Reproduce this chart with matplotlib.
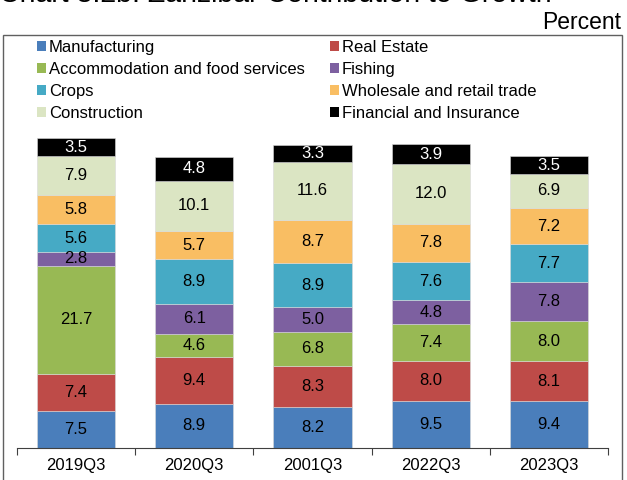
import matplotlib

matplotlib.use("Agg")
import matplotlib.pyplot as plt
from matplotlib.patches import Patch, Rectangle

plt.rcParams["font.family"] = ["Liberation Sans", "DejaVu Sans"]

quarters = ["2019Q3", "2020Q3", "2001Q3", "2022Q3", "2023Q3"]
sectors = [
    "Manufacturing",
    "Real Estate",
    "Accommodation and food services",
    "Fishing",
    "Crops",
    "Wholesale and retail trade",
    "Construction",
    "Financial and Insurance",
]
manufacturing = [7.5, 8.9, 8.2, 9.5, 9.4]
real_estate = [7.4, 9.4, 8.3, 8.0, 8.1]
accommodation = [21.7, 4.6, 6.8, 7.4, 8.0]
fishing = [2.8, 6.1, 5.0, 4.8, 7.8]
crops = [5.6, 8.9, 8.9, 7.6, 7.7]
wholesale = [5.8, 5.7, 8.7, 7.8, 7.2]
construction = [7.9, 10.1, 11.6, 12.0, 6.9]
financial = [3.5, 4.8, 3.3, 3.9, 3.5]

series = [manufacturing, real_estate, accommodation, fishing,
          crops, wholesale, construction, financial]
colors = ["#4a7ebb", "#be4b48", "#98b954", "#7d60a0",
          "#46aac5", "#f9be63", "#dbe5c3", "#000000"]

W, H = 627, 480
fig = plt.figure(figsize=(W / 100, H / 100), dpi=100)
ax = fig.add_axes([17 / W, (H - 448) / H, (608 - 17) / W, (448 - 35) / H])

x = list(range(len(quarters)))
bottom = [0.0] * len(quarters)
for vals, col in zip(series, colors):
    ax.bar(x, vals, width=0.66, bottom=bottom, color=col,
           edgecolor="#d9d9d9", linewidth=0.4)
    txt_col = "white" if col == "#000000" else "black"
    for i, v in enumerate(vals):
        ax.text(x[i], bottom[i] + v / 2, f"{v:.1f}", ha="center", va="center",
                fontsize=12, color=txt_col)
    bottom = [b + v for b, v in zip(bottom, vals)]

ax.set_xlim(-0.5, len(quarters) - 0.5)
ax.set_ylim(0, 83)
ax.set_yticks([])
for s in ["left", "right", "top"]:
    ax.spines[s].set_visible(False)
ax.spines["bottom"].set_color("#404040")
ax.set_xticks([i - 0.5 for i in range(len(quarters) + 1)])
ax.set_xticklabels([])
ax.tick_params(axis="x", which="major", length=5, color="#404040", direction="out")
ax.set_xticks(x, minor=True)
ax.set_xticklabels(quarters, minor=True, fontsize=12)
ax.tick_params(axis="x", which="minor", length=0, pad=7)

# legend, filled row by row like the original
order = [0, 2, 4, 6, 1, 3, 5, 7]
handles = [Patch(facecolor=colors[k], edgecolor="none") for k in order]
labels = [sectors[k] for k in order]
fig.legend(handles, labels, ncol=2, loc="upper left",
           bbox_to_anchor=(25 / W, 1 - 28.5 / H), frameon=False, fontsize=12,
           handlelength=0.55, handleheight=0.55, handletextpad=0.18,
           labelspacing=0.42, columnspacing=1.5, borderpad=0.2)

# chart frame
fig.patches.append(Rectangle((2.5 / W, -0.1), (622 - 2.5) / W, 0.1 + (H - 34.5) / H,
                             transform=fig.transFigure, fill=False,
                             edgecolor="#606060", linewidth=1.0))

fig.text(-1 / W, 1 - 2 / H, "Chart 3.2b: Zanzibar Contribution to Growth",
         fontsize=20.5, ha="left", va="baseline")
fig.text(621 / W, 1 - 29 / H, "Percent", fontsize=16.5, ha="right", va="baseline")

fig.savefig("out.png", dpi=100)
